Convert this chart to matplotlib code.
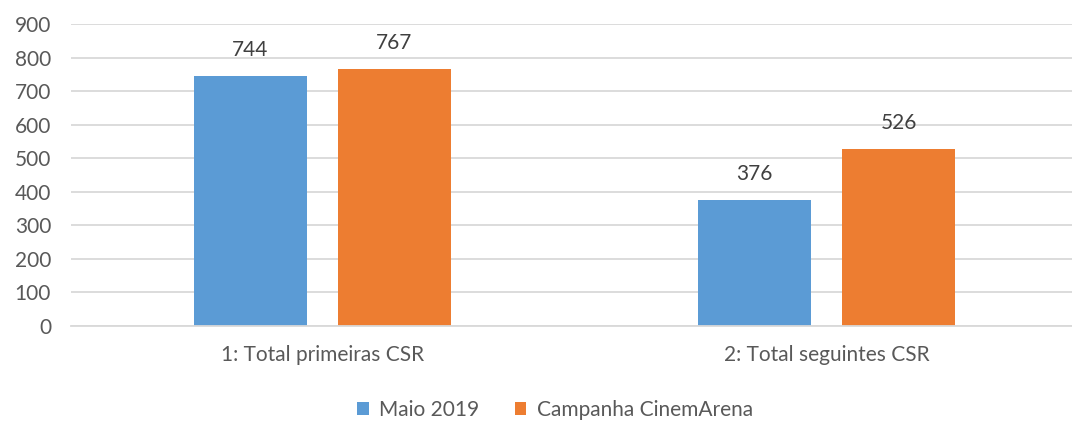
import matplotlib.pyplot as plt
import numpy as np

categories = ["1: Total primeiras CSR", "2: Total seguintes CSR"]
series_names = ["Maio 2019", "Campanha CinemArena"]
maio = [744, 376]
campanha = [767, 526]
colors = ["#5B9BD5", "#ED7D31"]

plt.rcParams['font.family'] = ['Lato', 'DejaVu Sans']

fig = plt.figure(figsize=(10.72, 4.23), dpi=100)
# plot area runs a little past the right edge, as in the original
ax = fig.add_axes([70.5/1072, 97/423, 1008/1072, 302/423])

x = np.arange(len(categories))
w = 113/504
off = 72/504
b1 = ax.bar(x - off, maio, w, color=colors[0], label=series_names[0], zorder=2)
b2 = ax.bar(x + off, campanha, w, color=colors[1], label=series_names[1], zorder=2)

for bars in (b1, b2):
    for r in bars:
        ax.text(r.get_x() + r.get_width()/2, r.get_height() + 48, str(int(r.get_height())),
                ha='center', va='bottom', fontsize=15, color='#404040')

ax.set_xlim(-0.5, 1.5)
ax.set_ylim(0, 900)
ax.set_yticks(range(0, 901, 100))
ax.set_xticks(x)
ax.set_xticklabels(categories)
ax.tick_params(axis='both', length=0, labelsize=15, colors='#595959')
ax.tick_params(axis='x', pad=14)
ax.tick_params(axis='y', pad=14)
ax.grid(axis='y', color='#D9D9D9', linewidth=1.3, zorder=0)
for s in ['top', 'right', 'left']:
    ax.spines[s].set_visible(False)
ax.spines['bottom'].set_color('#D9D9D9')
ax.spines['bottom'].set_linewidth(1.3)

fig.legend(loc='center', bbox_to_anchor=(555/1072, 1 - 410/423), ncol=2, frameon=False,
           fontsize=15, handlelength=0.55, handleheight=0.55, handletextpad=0.5,
           columnspacing=1.7, labelcolor='#595959')

fig.savefig('out.png', dpi=100)
